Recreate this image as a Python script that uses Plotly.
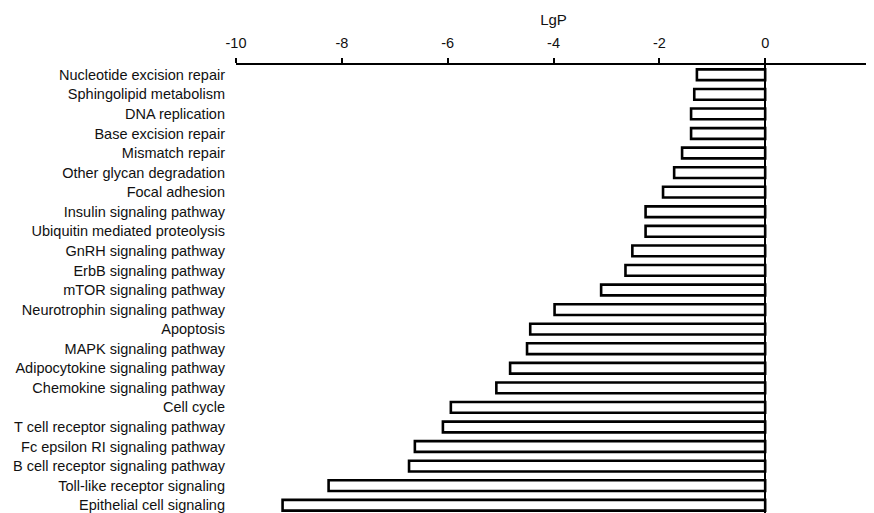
import plotly.graph_objects as go

pathways = [
    "Nucleotide excision repair", "Sphingolipid metabolism", "DNA replication",
    "Base excision repair", "Mismatch repair", "Other glycan degradation",
    "Focal adhesion", "Insulin signaling pathway", "Ubiquitin mediated proteolysis",
    "GnRH signaling pathway", "ErbB signaling pathway", "mTOR signaling pathway",
    "Neurotrophin signaling pathway", "Apoptosis", "MAPK signaling pathway",
    "Adipocytokine signaling pathway", "Chemokine signaling pathway", "Cell cycle",
    "T cell receptor signaling pathway", "Fc epsilon RI signaling pathway",
    "B cell receptor signaling pathway", "Toll-like receptor signaling",
    "Epithelial cell signaling",
]
lgp = [-1.29, -1.34, -1.40, -1.40, -1.57, -1.72, -1.93, -2.26, -2.26, -2.51,
       -2.64, -3.10, -3.98, -4.44, -4.50, -4.82, -5.08, -5.94, -6.09, -6.62,
       -6.73, -8.25, -9.12]
x_ticks = [-10, -8, -6, -4, -2, 0, 2]

fig = go.Figure(go.Bar(
    x=lgp, y=pathways, orientation="h",
    marker=dict(color="white", line=dict(color="black", width=2.6)),
    width=0.55,
))

font = "Liberation Sans, Arial, sans-serif"
fig.update_layout(
    width=866, height=507,
    margin=dict(l=228, r=3, t=57, b=0),
    paper_bgcolor="white", plot_bgcolor="white",
    showlegend=False,
    font=dict(family=font, color="#111", size=14),
    xaxis=dict(
        side="top", range=[-10, 2], tickmode="array", tickvals=x_ticks,
        ticktext=[str(v) for v in x_ticks], automargin=False,
        ticklabeloverflow="allow", ticklabelstandoff=4,
        showgrid=False, showline=True, linecolor="black", linewidth=2,
        ticks="outside", ticklen=5, tickwidth=1.5, tickcolor="black",
        tickfont=dict(size=14.5, family=font, color="#111"),
        zeroline=True, zerolinecolor="black", zerolinewidth=2,
        title=dict(text="LgP", font=dict(size=15, family=font, color="#111"), standoff=6),
    ),
    yaxis=dict(
        autorange="reversed", showgrid=False, showline=False, ticks="",
        automargin=False,
        tickfont=dict(size=14.5, family=font, color="#111"),
        ticklabelstandoff=10,
    ),
)

fig.write_html("out.html")
